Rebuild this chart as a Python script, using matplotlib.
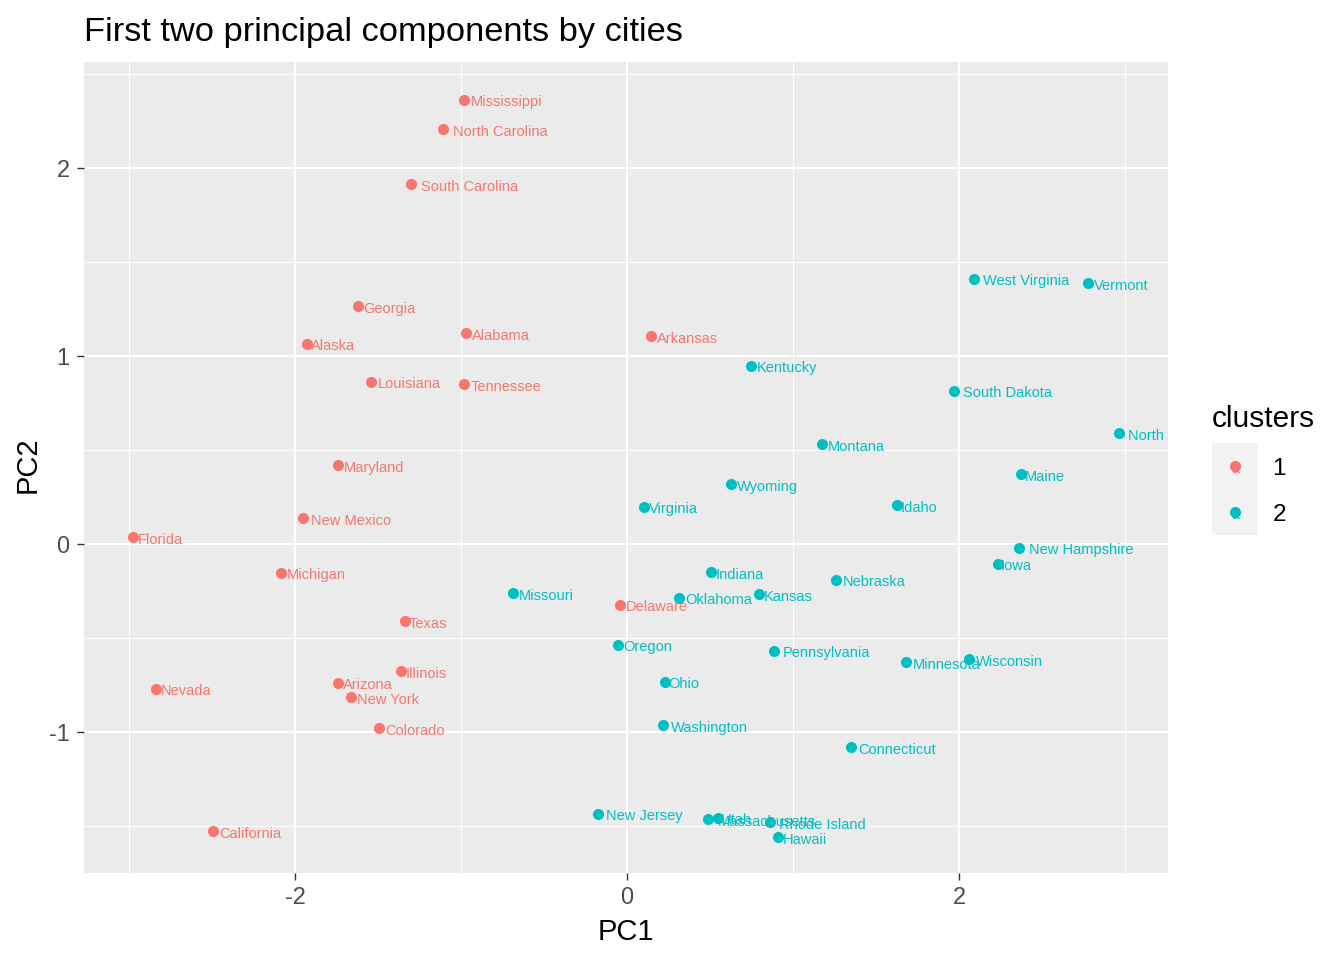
import matplotlib
matplotlib.use("Agg")
import matplotlib.pyplot as plt
from matplotlib.patches import Rectangle

plt.rcParams["font.family"] = ["Liberation Sans", "DejaVu Sans"]

RED = "#F8766D"
TEAL = "#00BFC4"

# cluster 1
names_1 = ["Mississippi", "North Carolina", "South Carolina", "Georgia", "Alabama", "Arkansas",
           "Alaska", "Louisiana", "Tennessee", "Maryland", "New Mexico", "Florida", "Michigan",
           "Delaware", "Texas", "Illinois", "Arizona", "Nevada", "New York", "Colorado", "California"]
pc1_1 = [-0.982, -1.108, -1.301, -1.620, -0.970, 0.145, -1.928, -1.542, -0.982, -1.741, -1.952,
         -2.976, -2.084, -0.042, -1.337, -1.361, -1.741, -2.837, -1.663, -1.494, -2.494]
pc2_1 = [2.362, 2.207, 1.915, 1.266, 1.122, 1.106, 1.064, 0.862, 0.851, 0.420, 0.138,
         0.037, -0.154, -0.324, -0.410, -0.676, -0.739, -0.771, -0.814, -0.979, -1.527]

# cluster 2
names_2 = ["West Virginia", "Vermont", "Kentucky", "South Dakota", "North Dakota", "Montana", "Maine",
           "Wyoming", "Idaho", "Virginia", "New Hampshire", "Iowa", "Indiana", "Nebraska", "Kansas",
           "Missouri", "Oklahoma", "Oregon", "Pennsylvania", "Minnesota", "Wisconsin", "Ohio",
           "Washington", "Connecticut", "New Jersey", "Massachusetts", "Utah", "Rhode Island", "Hawaii"]
pc1_2 = [2.090, 2.777, 0.747, 1.970, 2.964, 1.175, 2.373, 0.627, 1.627, 0.102, 2.361, 2.235, 0.506,
         1.259, 0.795, -0.687, 0.313, -0.054, 0.886, 1.681, 2.060, 0.229, 0.217, 1.349, -0.175,
         0.488, 0.548, 0.861, 0.910]
pc2_2 = [1.410, 1.388, 0.947, 0.814, 0.590, 0.532, 0.372, 0.319, 0.207, 0.197, -0.021, -0.106, -0.149,
         -0.191, -0.266, -0.261, -0.287, -0.537, -0.569, -0.628, -0.612, -0.734, -0.963, -1.080, -1.436,
         -1.465, -1.457, -1.479, -1.559]

W, H = 1344, 960
fig = plt.figure(figsize=(W / 100, H / 100), dpi=100)


def px_axes(left, top, right, bottom):
    return fig.add_axes([left / W, 1 - bottom / H, (right - left) / W, (bottom - top) / H])


ax = px_axes(84, 62, 1168, 873)
ax.set_facecolor("#EBEBEB")
ax.set_xlim(-3.271, 3.259)
ax.set_ylim(-1.75, 2.564)
for s in ax.spines.values():
    s.set_visible(False)

ax.set_xticks([-2, 0, 2])
ax.set_yticks([-1, 0, 1, 2])
ax.set_xticklabels(["-2", "0", "2"])
ax.set_yticklabels(["-1", "0", "1", "2"])
ax.set_xticks([-3, -1, 1, 3], minor=True)
ax.set_yticks([-1.5, -0.5, 0.5, 1.5, 2.5], minor=True)
ax.set_axisbelow(True)
ax.grid(which="major", color="white", lw=1.5)
ax.grid(which="minor", color="white", lw=0.75)
ax.tick_params(which="major", length=5.3, width=1.0, color="#333333", labelcolor="#4D4D4D",
               labelsize=17, pad=5)
ax.tick_params(which="minor", length=0)

ax.set_xlabel("PC1", fontsize=21, labelpad=6)
ax.set_ylabel("PC2", fontsize=21, labelpad=5, y=0.503)
fig.text(84 / W, 1 - 32.5 / H, "First two principal components by cities", fontsize=24.72, va="center", ha="left")

renderer = fig.canvas.get_renderer()
for names, xs, ys, col in [(names_1, pc1_1, pc2_1, RED), (names_2, pc1_2, pc2_2, TEAL)]:
    ax.scatter(xs, ys, s=64, color=col, linewidths=0, zorder=3)
    for name, x, y in zip(names, xs, ys):
        t = ax.annotate(name, (x, y), xytext=(0, -2.5), textcoords="offset pixels", color=col,
                        fontsize=10.55, ha="left", va="center", annotation_clip=False,
                        clip_on=True, zorder=4)
        # label sits a tenth of its own width right of the point
        w = t.get_window_extent(renderer).width
        t.xyann = (0.1 * w, -2.5)

# legend
fig.text(1212 / W, 1 - 419 / H, "clusters", fontsize=21.5, va="center", ha="left")
leg = px_axes(1212, 443, 1258, 535)
leg.set_xlim(0, 1)
leg.set_ylim(0, 2)
leg.invert_yaxis()
leg.axis("off")
for i, (lab, col) in enumerate([("1", RED), ("2", TEAL)]):
    leg.add_patch(Rectangle((0, i), 1, 1, color="#F2F2F2", lw=0))
    leg.scatter([0.5], [i + 0.5], s=64, color=col, linewidths=0, zorder=3)
    leg.text(0.5, i + 0.56, "a", color=col, fontsize=10.55, ha="center", va="center", zorder=2)
    fig.text(1279 / W, 1 - (469 + 46 * i) / H, lab, fontsize=17.5, va="center", ha="center")

fig.savefig("out.png", dpi=100)
